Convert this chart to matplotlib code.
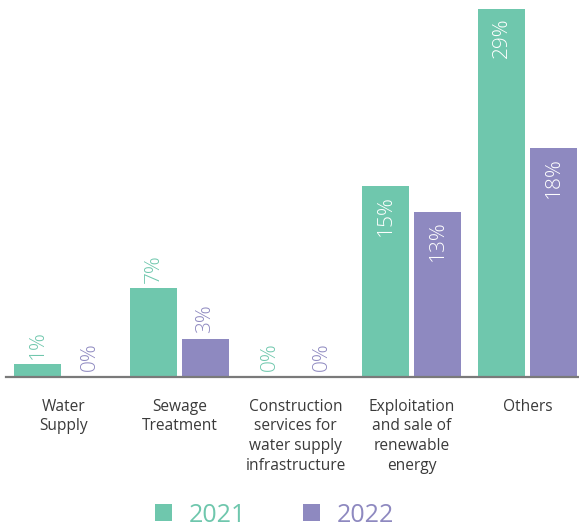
import matplotlib
matplotlib.use("Agg")
import matplotlib.pyplot as plt
import numpy as np

categories = [
    "Water\nSupply",
    "Sewage\nTreatment",
    "Construction\nservices for\nwater supply\ninfrastructure",
    "Exploitation\nand sale of\nrenewable\nenergy",
    "Others",
]
series_names = ["2021", "2022"]
values_2021 = [1, 7, 0, 15, 29]
values_2022 = [0, 3, 0, 13, 18]

green = "#6fc7ad"
purple = "#8e89c0"
text_dark = "#3a3a3a"

plt.rcParams["font.family"] = ["Open Sans", "DejaVu Sans"]

fig = plt.figure(figsize=(5.79, 5.27), dpi=100)
ax = fig.add_axes([0.00985, 0.2846, 0.99015, 0.7154])

x = np.arange(len(categories))
width = 0.405
offset = 0.224

bars_a = ax.bar(x - offset, values_2021, width, color=green, label=series_names[0], zorder=2)
bars_b = ax.bar(x + offset, values_2022, width, color=purple, label=series_names[1], zorder=2)

ax.set_xlim(-0.498, 4.444)
ax.set_ylim(0, 29.68)

inside_threshold = 10
for bars, vals, col in ((bars_a, values_2021, green), (bars_b, values_2022, purple)):
    for b, v in zip(bars, vals):
        cx = b.get_x() + b.get_width() / 2
        if v >= inside_threshold:
            ax.annotate(f"{v}%", (cx, v), xytext=(0, -6), textcoords="offset points",
                        rotation=90, ha="center", va="top", color="white",
                        fontsize=15, fontweight="light", zorder=3)
        else:
            ax.annotate(f"{v}%", (cx, v), xytext=(0, 4), textcoords="offset points",
                        rotation=90, ha="center", va="bottom", color=col,
                        fontsize=15, fontweight="light", zorder=3)

for side in ("top", "left", "right"):
    ax.spines[side].set_visible(False)
ax.spines["bottom"].set_color("#7a7a7a")
ax.spines["bottom"].set_linewidth(1.6)
ax.spines["bottom"].set_zorder(3)
ax.set_yticks([])
ax.set_xticks(x)
ax.set_xticklabels(categories, fontsize=11.2, color=text_dark, linespacing=1.32,
                   multialignment="center")
ax.tick_params(axis="x", length=0, pad=15.5)

leg = fig.legend(handles=[bars_a, bars_b], labels=series_names, loc="center",
                 bbox_to_anchor=(274.5 / 579, 12 / 527), ncol=2, frameon=False,
                 fontsize=18, handlelength=0.68, handleheight=0.68,
                 handletextpad=0.68, columnspacing=2.24, borderpad=0)
for t, c in zip(leg.get_texts(), (green, purple)):
    t.set_color(c)

fig.savefig("out.png", dpi=100)
